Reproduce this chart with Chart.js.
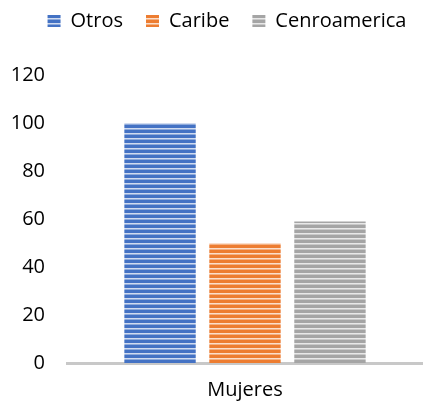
<!DOCTYPE html>
<html><head><meta charset="utf-8">
<script src="https://cdn.jsdelivr.net/npm/chart.js@4/dist/chart.umd.min.js"></script>
<style>html,body{margin:0;padding:0;background:#fff}#wrap{width:423px;height:405px}</style>
</head><body><div id="wrap"><canvas id="c" width="423" height="405"></canvas></div>
<script>
const categories = ['Mujeres'];
const seriesNames = ['Otros', 'Caribe', 'Cenroamerica'];
const otros = [100];
const caribe = [50];
const cenroamerica = [59];
const yTicks = [0, 20, 40, 60, 80, 100, 120];
const colors = ['#4472C4', '#ED7D31', '#A5A5A5'];

function stripe(color) {
  const c = document.createElement('canvas');
  c.width = 8; c.height = 5;
  const g = c.getContext('2d');
  g.fillStyle = color; g.fillRect(0, 0, 8, 5);
  g.fillStyle = 'rgba(255,255,255,0.75)'; g.fillRect(0, 3, 8, 1);
  g.fillStyle = 'rgba(255,255,255,0.4)'; g.fillRect(0, 4, 8, 1);
  return g.createPattern(c, 'repeat');
}
const FONT = "'Open Sans', sans-serif";
const values = [otros, caribe, cenroamerica];
const legendFitPlugin = {
  id: 'legendFit',
  beforeInit(chart) {
    const orig = chart.legend.fit;
    chart.legend.fit = function () { orig.bind(chart.legend)(); this.height = 87; };
  },
  afterLayout(chart) {
    chart.legend.left += 13;
    chart.legend.right += 13;
  }
};
new Chart(document.getElementById('c'), {
  type: 'bar',
  data: {
    labels: categories,
    datasets: seriesNames.map((n, i) => ({
      label: n, data: values[i], backgroundColor: stripe(colors[i]), borderWidth: 0,
      barPercentage: 0.84, categoryPercentage: 0.716
    }))
  },
  options: {
    responsive: false, animation: false,
    layout: { padding: { left: 0, right: -5, top: -12, bottom: 0 } },
    plugins: {
      tooltip: { enabled: false },
      legend: {
        position: 'top', align: 'center',
        labels: { font: { family: FONT, size: 20 }, color: '#000', boxWidth: 13, boxHeight: 12, padding: 23 }
      }
    },
    scales: {
      x: {
        grid: { display: false, drawTicks: false },
        border: { display: true, color: '#c8c8c8', width: 3 },
        ticks: { font: { family: FONT, size: 20 }, color: '#000', padding: 15 },
        afterFit(s) { s.height = 42; }
      },
      y: {
        min: 0, max: 120,
        afterBuildTicks(s) { s.ticks = yTicks.map(v => ({ value: v })); },
        grid: { display: false, drawTicks: false },
        border: { display: false },
        ticks: { font: { family: FONT, size: 20 }, color: '#000', padding: 22 },
        afterFit(s) { s.width = 67; }
      }
    }
  },
  plugins: [legendFitPlugin]
});
</script></body></html>
